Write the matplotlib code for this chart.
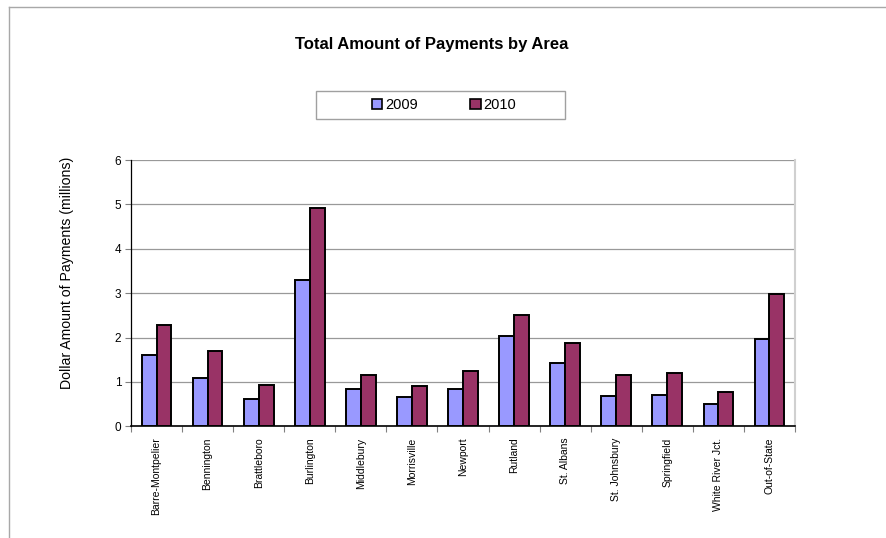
import numpy as np
import matplotlib
matplotlib.use("Agg")
import matplotlib.pyplot as plt
from matplotlib.lines import Line2D
from matplotlib.patches import Patch, Rectangle

plt.rcParams['font.family'] = ['Liberation Sans', 'DejaVu Sans']

# 地区与数据（百万美元）
areas = ['Barre-Montpelier', 'Bennington', 'Brattleboro', 'Burlington', 'Middlebury',
         'Morrisville', 'Newport', 'Rutland', 'St. Albans', 'St. Johnsbury',
         'Springfield', 'White River Jct.', 'Out-of-State']
pay_2009 = [1.61, 1.09, 0.62, 3.29, 0.85, 0.66, 0.84, 2.03, 1.43, 0.69, 0.70, 0.50, 1.97]
pay_2010 = [2.28, 1.69, 0.92, 4.91, 1.16, 0.90, 1.24, 2.51, 1.88, 1.16, 1.20, 0.77, 2.97]
series_names = ['2009', '2010']
y_ticks = [0, 1, 2, 3, 4, 5, 6]

c2009 = '#9999FF'
c2010 = '#993366'

fig = plt.figure(figsize=(8.86, 5.38), dpi=100)
ax = fig.add_axes([131 / 886, 1 - 426.3 / 538, (795 - 131) / 886, (426.3 - 160) / 538])

x = np.arange(len(areas))
w = 0.29
ax.bar(x - w / 2, pay_2009, w, color=c2009, edgecolor='black', linewidth=1.4, zorder=3)
ax.bar(x + w / 2, pay_2010, w, color=c2010, edgecolor='black', linewidth=1.4, zorder=3)

ax.set_xlim(-0.5, len(areas) - 0.5)
ax.set_ylim(0, 6)
ax.set_yticks(y_ticks)
ax.tick_params(axis='y', labelsize=8.5, length=4, width=0.8, color='#808080', pad=3)
ax.yaxis.grid(True, color='#999999', linewidth=0.9, zorder=0)

# x 轴刻度在类别之间
ax.set_xticks(x)
ax.set_xticklabels(areas, rotation=90, fontsize=7.5)
ax.tick_params(axis='x', length=0, pad=8)
ax.set_xticks(np.arange(len(areas) + 1) - 0.5, minor=True)
ax.tick_params(axis='x', which='minor', length=4, width=0.8, color='#808080')

ax.spines['top'].set_visible(False)
ax.spines['right'].set_color('#d0d0d0')
ax.spines['right'].set_linewidth(1.5)
ax.spines['left'].set_color('black')
ax.spines['left'].set_linewidth(0.9)
ax.spines['bottom'].set_color('black')
ax.spines['bottom'].set_linewidth(1.2)

ax.set_ylabel('Dollar Amount of Payments (millions)', fontsize=10.2)
ax.yaxis.set_label_coords(-0.0858, 0.576)

fig.text(432 / 886, 1 - 45 / 538, 'Total Amount of Payments by Area',
         ha='center', va='center', fontsize=12, fontweight='bold')

# 图例
fig.add_artist(Rectangle((316 / 886, 1 - 119 / 538), 249 / 886, 28 / 538,
                         transform=fig.transFigure, facecolor='white',
                         edgecolor='#a0a0a0', linewidth=1.0))
handles = [Patch(facecolor=c2009, edgecolor='black', linewidth=1.2),
           Patch(facecolor=c2010, edgecolor='black', linewidth=1.2)]
leg = fig.legend(handles, series_names, loc='center', bbox_to_anchor=(444 / 886, 1 - 105 / 538),
                 ncol=2, fontsize=10.5, frameon=False, handlelength=0.75,
                 handleheight=0.75, handletextpad=0.2, columnspacing=3.55)

# 外框
fig.add_artist(Line2D([8.5 / 886, 8.5 / 886], [0, 1 - 6.5 / 538], color='#a8a8a8', linewidth=1.0))
fig.add_artist(Line2D([8.5 / 886, 1], [1 - 6.5 / 538, 1 - 6.5 / 538], color='#a8a8a8', linewidth=1.0))

fig.savefig('out.png', dpi=100)
